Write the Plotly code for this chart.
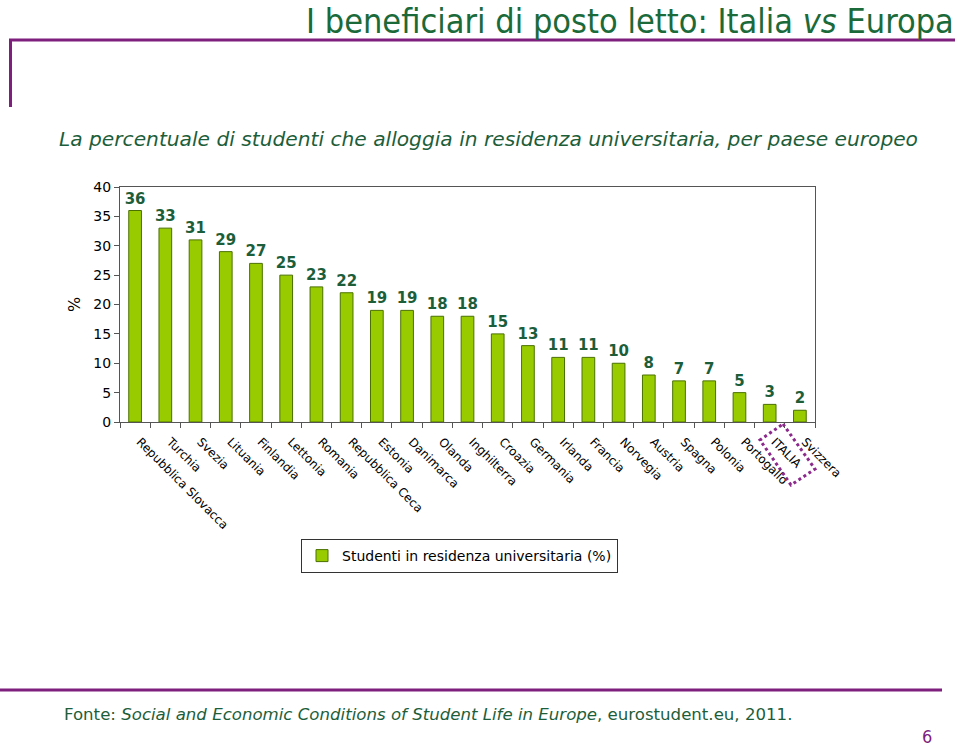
import plotly.graph_objects as go

countries = ["Repubblica Slovacca", "Turchia", "Svezia", "Lituania", "Finlandia", "Lettonia",
             "Romania", "Repubblica Ceca", "Estonia", "Danimarca", "Olanda", "Inghilterra",
             "Croazia", "Germania", "Irlanda", "Francia", "Norvegia", "Austria", "Spagna",
             "Polonia", "Portogallo", "ITALIA", "Svizzera"]
values = [36, 33, 31, 29, 27, 25, 23, 22, 19, 19, 18, 18, 15, 13, 11, 11, 10, 8, 7, 7, 5, 3, 2]
y_ticks = [0, 5, 10, 15, 20, 25, 30, 35, 40]

W, H = 960, 748
L, R, T, B = 120, 145, 187, 326
PW, PH = W - L - R, H - T - B

def px(x):
    return (x - L) / PW

def py(y):
    return 1 - (y - T) / PH

GREEN_TXT = "#1D5E3A"
PURPLE = "#7E1F7E"

fig = go.Figure()
fig.add_trace(go.Bar(
    x=countries, y=values, name="Studenti in residenza universitaria (%)",
    marker=dict(color="#99CC00", line=dict(color="#4A7000", width=1)),
    text=[str(v) for v in values], textposition="outside", constraintext="none",
    textfont=dict(family="DejaVu Sans", size=15, color=GREEN_TXT, weight="bold"),
    cliponaxis=False,
))

fig.update_layout(
    width=W, height=H,
    margin=dict(l=L, r=R, t=T, b=B, autoexpand=False),
    paper_bgcolor="white", plot_bgcolor="white",
    bargap=0.58,
    showlegend=True,
    legend=dict(x=px(301), y=py(539), xanchor="left", yanchor="top",
                bordercolor="#333333", borderwidth=1,
                font=dict(family="DejaVu Sans", size=14, color="black"),
                itemwidth=30),
    xaxis=dict(type="category", tickangle=45, tickson="boundaries", ticks="outside",
               ticklen=5, tickcolor="#555555", showline=True, linecolor="#555555",
               mirror=True, tickfont=dict(family="DejaVu Sans", size=12, color="black"),
               ticklabelstandoff=7, ticklabelshift=5,
               showgrid=False),
    yaxis=dict(range=[0, 40], tickvals=y_ticks, ticks="outside", ticklen=5,
               tickcolor="#555555", showline=True, linecolor="#555555", mirror=True,
               showgrid=False, zeroline=False,
               tickfont=dict(family="DejaVu Sans", size=14, color="black"),
               title=dict(text="%", standoff=8,
                          font=dict(family="DejaVu Sans", size=16, color="black"))),
)

# Title and subtitle
fig.add_annotation(text="I beneficiari di posto letto: Italia <i>vs</i> Europa",
                   xref="paper", yref="paper", x=px(956), y=py(21), xanchor="right",
                   yanchor="middle", showarrow=False,
                   font=dict(family="DejaVu Sans Condensed", size=34, color="#1B6A3A"))
fig.add_annotation(text="<i>La percentuale di studenti che alloggia in residenza universitaria, per paese europeo</i>",
                   xref="paper", yref="paper", x=px(57), y=py(139), xanchor="left",
                   yanchor="middle", showarrow=False,
                   font=dict(family="DejaVu Sans", size=20.2, color=GREEN_TXT))
fig.add_annotation(text="Fonte: <i>Social and Economic Conditions of Student Life in Europe</i>, eurostudent.eu, 2011.",
                   xref="paper", yref="paper", x=px(62), y=py(714), xanchor="left",
                   yanchor="middle", showarrow=False,
                   font=dict(family="DejaVu Sans", size=16.6, color=GREEN_TXT))
fig.add_annotation(text="6", xref="paper", yref="paper", x=px(927), y=py(736),
                   xanchor="center", yanchor="middle", showarrow=False,
                   font=dict(family="DejaVu Sans Condensed", size=18, color=PURPLE))

# Decorative lines
fig.add_shape(type="line", xref="paper", yref="paper", x0=px(9), x1=px(955), y0=py(40), y1=py(40),
              line=dict(color=PURPLE, width=3))
fig.add_shape(type="line", xref="paper", yref="paper", x0=px(10.5), x1=px(10.5), y0=py(40), y1=py(107),
              line=dict(color=PURPLE, width=3))
fig.add_shape(type="line", xref="paper", yref="paper", x0=px(0), x1=px(942), y0=py(690), y1=py(690),
              line=dict(color=PURPLE, width=3))

# Dotted box around ITALIA label
pts = [(783, 424), (815, 469), (791, 485), (760, 440)]
path = "M " + " L ".join(f"{px(a)},{py(b)}" for a, b in pts) + " Z"
fig.add_shape(type="path", xref="paper", yref="paper", path=path,
              line=dict(color="#8B2A8B", width=3, dash="dot"))

fig.write_html("out.html", config={"displayModeBar": False},
               post_script="document.body.style.margin='0';document.body.style.overflow='hidden';")
